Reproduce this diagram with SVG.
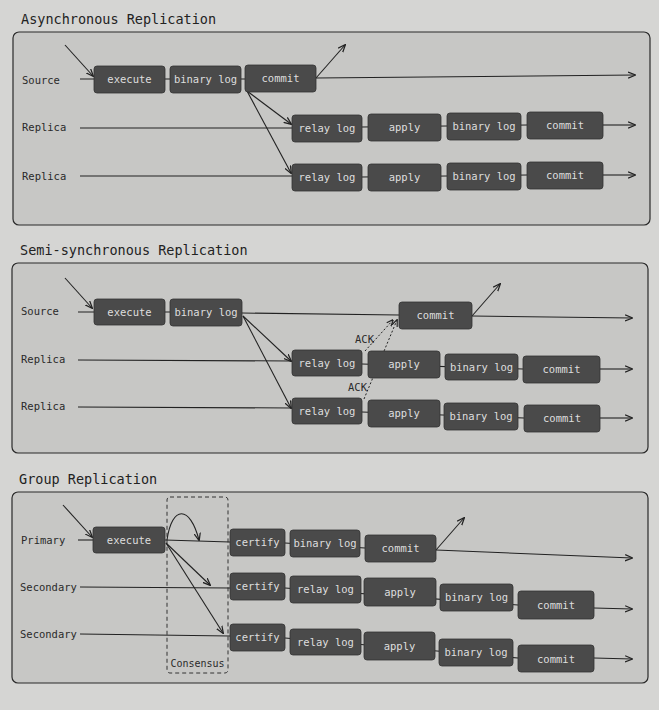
<svg xmlns="http://www.w3.org/2000/svg" width="659" height="710" viewBox="0 0 659 710">
<defs>
<marker id="ah" viewBox="0 0 10 10" refX="9" refY="5" markerWidth="7" markerHeight="7" orient="auto"><path d="M0,1 L10,5 L0,9" fill="none" stroke="#222" stroke-width="1.6"/></marker>
<style>
.panel{fill:#c7c7c5;stroke:#2a2a2a;stroke-width:1.2}
.title{font-family:"DejaVu Sans Mono",monospace;font-size:13.5px;fill:#222}
.lbl{font-family:"DejaVu Sans Mono",monospace;font-size:10.5px;fill:#2a2a2a}
.box rect{fill:#4a4a4a;stroke:#333;stroke-width:0.8}
.box text{font-family:"DejaVu Sans Mono",monospace;font-size:10.5px;fill:#dedede;text-anchor:middle}
.ln{stroke:#222;stroke-width:1.1;fill:none}
.ar{stroke:#222;stroke-width:1.1;fill:none;marker-end:url(#ah)}
.dot{stroke:#222;stroke-width:1;fill:none;stroke-dasharray:2 2;marker-end:url(#ah)}
.cons{fill:none;stroke:#333;stroke-width:1;stroke-dasharray:4 3}
</style>
</defs>
<rect width="659" height="710" fill="#d5d5d3"/>

<!-- Section 1 -->
<text class="title" x="21" y="24">Asynchronous Replication</text>
<rect class="panel" x="13" y="32" width="637" height="193" rx="6"/>
<text class="lbl" x="22" y="84">Source</text>
<text class="lbl" x="22" y="131">Replica</text>
<text class="lbl" x="22" y="180">Replica</text>

<!-- Section 2 -->
<text class="title" x="20" y="255">Semi-synchronous Replication</text>
<rect class="panel" x="12" y="263" width="636" height="190" rx="6"/>
<text class="lbl" x="21" y="315">Source</text>
<text class="lbl" x="21" y="363">Replica</text>
<text class="lbl" x="21" y="410">Replica</text>

<!-- Section 3 -->
<text class="title" x="19" y="484">Group Replication</text>
<rect class="panel" x="12" y="492" width="636" height="191" rx="6"/>
<text class="lbl" x="21" y="544">Primary</text>
<text class="lbl" x="20" y="591">Secondary</text>
<text class="lbl" x="20" y="638">Secondary</text>
<g id="consensus">
<rect class="cons" x="167" y="497" width="61" height="176" rx="3"/>
<text class="lbl" x="197.5" y="667" text-anchor="middle" style="font-size:10px">Consensus</text>
</g>

<g id="connectors">
<!-- S1 -->
<line class="ar" x1="65" y1="45" x2="93" y2="76"/>
<line class="ln" x1="80" y1="79" x2="245" y2="79"/>
<line class="ar" x1="316" y1="78" x2="635" y2="75"/>
<line class="ar" x1="316" y1="78" x2="345" y2="45"/>
<line class="ar" x1="247" y1="91" x2="291" y2="124"/>
<line class="ar" x1="247" y1="91" x2="291" y2="173"/>
<line class="ln" x1="80" y1="128" x2="292" y2="128"/>
<line class="ln" x1="80" y1="176" x2="292" y2="176"/>
<line class="ln" x1="362" y1="127" x2="527" y2="125"/>
<line class="ln" x1="362" y1="177" x2="527" y2="175"/>
<line class="ar" x1="603" y1="125" x2="635" y2="125"/>
<line class="ar" x1="603" y1="175" x2="635" y2="175"/>
<!-- S2 -->
<line class="ar" x1="65" y1="278" x2="92" y2="308"/>
<line class="ln" x1="78" y1="312" x2="170" y2="312"/>
<line class="ln" x1="242" y1="313" x2="399" y2="315"/>
<line class="ar" x1="472" y1="316" x2="632" y2="318"/>
<line class="ar" x1="472" y1="316" x2="500" y2="284"/>
<line class="ar" x1="243" y1="316" x2="291" y2="361"/>
<line class="ar" x1="243" y1="316" x2="291" y2="408"/>
<line class="ln" x1="78" y1="360" x2="292" y2="361"/>
<line class="ln" x1="78" y1="407" x2="292" y2="408"/>
<line class="ln" x1="362" y1="364" x2="523" y2="369"/>
<line class="ln" x1="362" y1="412" x2="524" y2="418"/>
<line class="dot" x1="365" y1="351" x2="393" y2="320"/>
<line class="dot" x1="364" y1="399" x2="397" y2="320"/>
<line class="ar" x1="600" y1="369" x2="632" y2="369"/>
<line class="ar" x1="600" y1="418" x2="632" y2="418"/>
<!-- S3 -->
<line class="ar" x1="63" y1="505" x2="92" y2="537"/>
<line class="ln" x1="78" y1="540" x2="93" y2="540"/>
<line class="ln" x1="165" y1="540" x2="230" y2="542"/>
<line class="ln" x1="285" y1="543" x2="365" y2="548"/>
<path class="ar" d="M167,540 C172,505 190,505 199,540"/>
<line class="ar" x1="436" y1="550" x2="632" y2="558"/>
<line class="ar" x1="436" y1="550" x2="464" y2="518"/>
<line class="ar" x1="166" y1="543" x2="210" y2="585"/>
<line class="ar" x1="166" y1="543" x2="223" y2="633"/>
<line class="ln" x1="80" y1="587" x2="230" y2="588"/>
<line class="ln" x1="80" y1="634" x2="230" y2="636"/>
<line class="ln" x1="285" y1="588" x2="518" y2="605"/>
<line class="ln" x1="285" y1="638" x2="518" y2="658"/>
<line class="ar" x1="594" y1="608" x2="632" y2="609"/>
<line class="ar" x1="594" y1="658" x2="632" y2="659"/>
</g>

<text class="lbl" x="355" y="343">ACK</text>
<text class="lbl" x="348" y="391">ACK</text>

<!-- S1 nodes -->
<g id="a_exec" class="box"><rect x="94" y="66" width="71" height="27" rx="3"/><text x="129.5" y="83">execute</text></g>
<g id="a_binlog" class="box"><rect x="170" y="66" width="71" height="27" rx="3"/><text x="205.5" y="83">binary log</text></g>
<g id="a_commit" class="box"><rect x="245" y="65" width="71" height="27" rx="3"/><text x="280.5" y="82">commit</text></g>
<g id="a_r1_relay" class="box"><rect x="292" y="115" width="70" height="27" rx="3"/><text x="327" y="132">relay log</text></g>
<g id="a_r1_apply" class="box"><rect x="368" y="114" width="73" height="27" rx="3"/><text x="404.5" y="131">apply</text></g>
<g id="a_r1_binlog" class="box"><rect x="447" y="113" width="74" height="27" rx="3"/><text x="484" y="130">binary log</text></g>
<g id="a_r1_commit" class="box"><rect x="527" y="112" width="76" height="27" rx="3"/><text x="565" y="129">commit</text></g>
<g id="a_r2_relay" class="box"><rect x="292" y="164" width="70" height="27" rx="3"/><text x="327" y="181">relay log</text></g>
<g id="a_r2_apply" class="box"><rect x="368" y="164" width="73" height="27" rx="3"/><text x="404.5" y="181">apply</text></g>
<g id="a_r2_binlog" class="box"><rect x="447" y="163" width="74" height="27" rx="3"/><text x="484" y="180">binary log</text></g>
<g id="a_r2_commit" class="box"><rect x="527" y="162" width="76" height="27" rx="3"/><text x="565" y="179">commit</text></g>

<!-- S2 nodes -->
<g id="s_exec" class="box"><rect x="94" y="299" width="71" height="26" rx="3"/><text x="129.5" y="316">execute</text></g>
<g id="s_binlog" class="box"><rect x="170" y="299" width="72" height="27" rx="3"/><text x="206" y="316">binary log</text></g>
<g id="s_commit" class="box"><rect x="399" y="302" width="73" height="27" rx="3"/><text x="435.5" y="319">commit</text></g>
<g id="s_r1_relay" class="box"><rect x="292" y="350" width="70" height="26" rx="3"/><text x="327" y="367">relay log</text></g>
<g id="s_r1_apply" class="box"><rect x="368" y="351" width="72" height="27" rx="3"/><text x="404" y="368">apply</text></g>
<g id="s_r1_binlog" class="box"><rect x="445" y="354" width="73" height="26" rx="3"/><text x="481.5" y="371">binary log</text></g>
<g id="s_r1_commit" class="box"><rect x="523" y="356" width="77" height="27" rx="3"/><text x="561.5" y="373">commit</text></g>
<g id="s_r2_relay" class="box"><rect x="292" y="398" width="70" height="26" rx="3"/><text x="327" y="415">relay log</text></g>
<g id="s_r2_apply" class="box"><rect x="368" y="400" width="72" height="27" rx="3"/><text x="404" y="417">apply</text></g>
<g id="s_r2_binlog" class="box"><rect x="444" y="403" width="74" height="27" rx="3"/><text x="481" y="420">binary log</text></g>
<g id="s_r2_commit" class="box"><rect x="524" y="405" width="76" height="27" rx="3"/><text x="562" y="422">commit</text></g>

<!-- S3 nodes -->
<g id="g_exec" class="box"><rect x="93" y="527" width="72" height="26" rx="3"/><text x="129" y="544">execute</text></g>
<g id="g_p_cert" class="box"><rect x="230" y="529" width="55" height="27" rx="3"/><text x="257.5" y="546">certify</text></g>
<g id="g_p_binlog" class="box"><rect x="290" y="530" width="70" height="27" rx="3"/><text x="325" y="547">binary log</text></g>
<g id="g_p_commit" class="box"><rect x="365" y="535" width="71" height="27" rx="3"/><text x="400.5" y="552">commit</text></g>
<g id="g_s1_cert" class="box"><rect x="230" y="573" width="55" height="27" rx="3"/><text x="257.5" y="590">certify</text></g>
<g id="g_s1_relay" class="box"><rect x="290" y="576" width="71" height="27" rx="3"/><text x="325.5" y="593">relay log</text></g>
<g id="g_s1_apply" class="box"><rect x="364" y="578" width="72" height="28" rx="3"/><text x="400" y="596">apply</text></g>
<g id="g_s1_binlog" class="box"><rect x="440" y="584" width="73" height="27" rx="3"/><text x="476.5" y="601">binary log</text></g>
<g id="g_s1_commit" class="box"><rect x="518" y="591" width="76" height="28" rx="3"/><text x="556" y="609">commit</text></g>
<g id="g_s2_cert" class="box"><rect x="230" y="624" width="55" height="27" rx="3"/><text x="257.5" y="641">certify</text></g>
<g id="g_s2_relay" class="box"><rect x="290" y="629" width="71" height="26" rx="3"/><text x="325.5" y="646">relay log</text></g>
<g id="g_s2_apply" class="box"><rect x="364" y="632" width="71" height="28" rx="3"/><text x="399.5" y="650">apply</text></g>
<g id="g_s2_binlog" class="box"><rect x="439" y="639" width="74" height="27" rx="3"/><text x="476" y="656">binary log</text></g>
<g id="g_s2_commit" class="box"><rect x="518" y="645" width="76" height="27" rx="3"/><text x="556" y="663">commit</text></g>
</svg>
